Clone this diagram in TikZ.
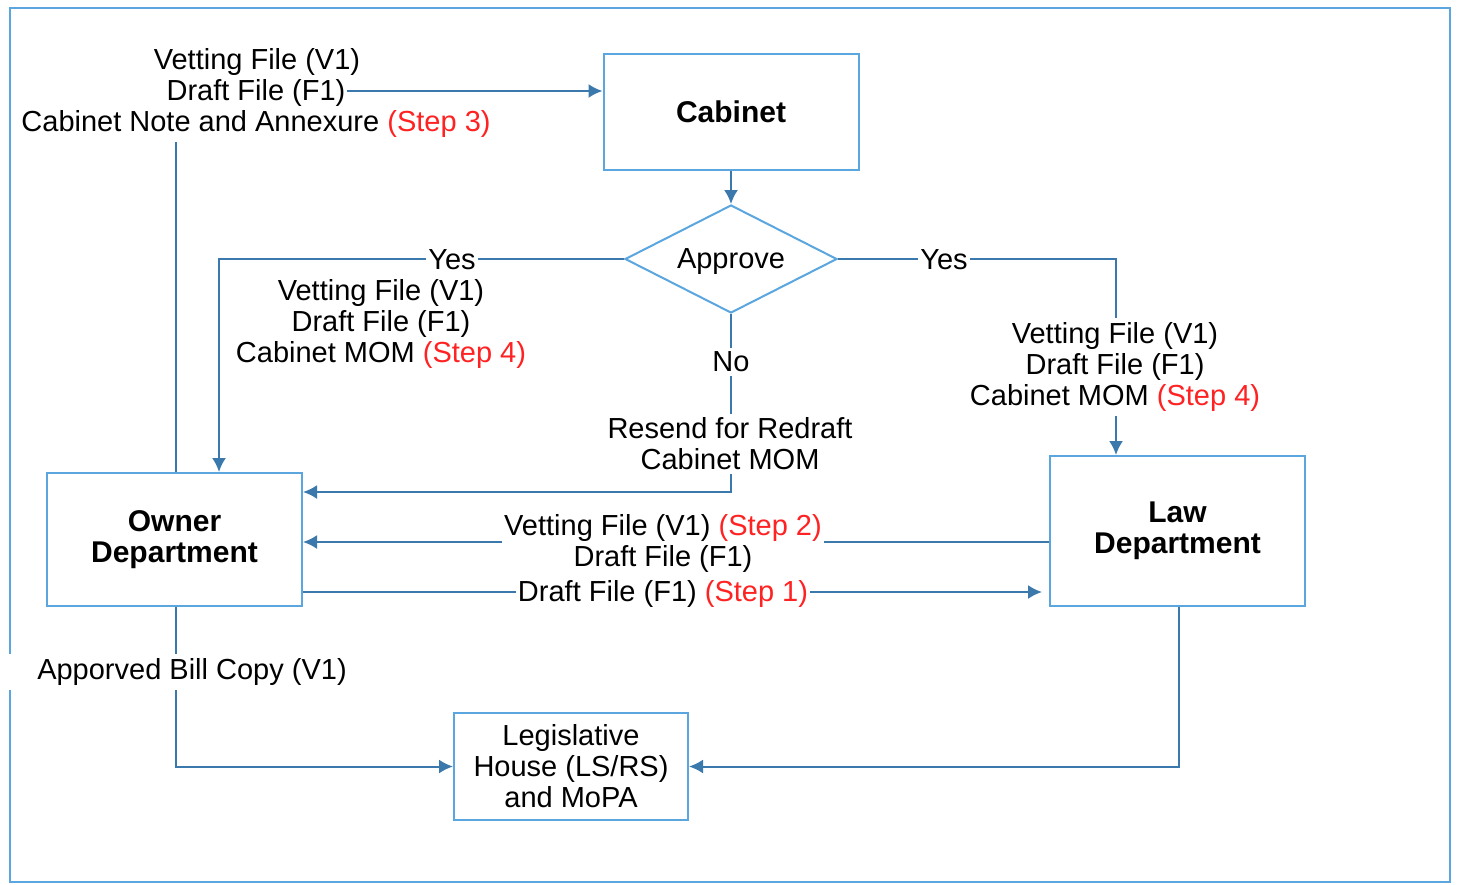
\documentclass[tikz,border=0pt]{standalone}
\usepackage{fontspec}
\setmainfont{Liberation Sans}
\usepackage{xcolor}
\usetikzlibrary{arrows.meta, positioning, shapes.geometric, calc}
\definecolor{boxblue}{HTML}{5BA6DE}
\definecolor{linkblue}{HTML}{3B79AD}
\definecolor{stepred}{HTML}{FF2222}
\newcommand{\stepref}[1]{\textcolor{stepred}{(Step #1)}}

\begin{document}
\begin{tikzpicture}[x=0.5pt, y=-0.5pt,
  every node/.style={font=\fontsize{14.5}{15.5}\selectfont},
  box/.style={draw=boxblue, line width=1pt, minimum width=127.5pt, align=center,
              font=\fontsize{15}{15.5}\selectfont\bfseries},
  decision/.style={diamond, draw=boxblue, line width=1pt, aspect=2, inner sep=0pt,
                   minimum width=106pt, minimum height=54pt, text depth=0pt},
  lbl/.style={align=center, inner xsep=1pt, inner ysep=2pt},
  link/.style={-{Latex[length=7pt, width=7pt]}, draw=linkblue, line width=1pt}]

  \useasboundingbox (0,0) rectangle (1459,884);
  \draw[boxblue, line width=1pt] (10,8) rectangle (1450,882);

  \node[box, minimum height=58pt] (cabinet) at (731,112) {Cabinet};
  \node[decision] (approve) at (731,259) {Approve};
  \node[box, minimum height=66.5pt] (owner) at (174.5,539.5) {Owner\\Department};
  \node[box, minimum height=75pt] (law) at (1177.5,531) {Law\\Department};
  \node[box, minimum width=117pt, minimum height=53.5pt,
        font=\fontsize{14.5}{15.5}\selectfont] (house) at (571,766.5) {Legislative\\House (LS/RS)\\and MoPA};

  \draw[link] ($(owner.north)+(1.5,0)$) |- ($(cabinet.west)+(0,-21)$);
  \draw[link] (cabinet) -- (approve);
  \draw[link] (approve.west) -| ($(owner.north)+(44.5,0)$);
  \draw[link] (approve.east) -| ($(law.north)+(-61.5,0)$);
  \draw[link] (approve.south) |- ($(owner.east)+(0,-47.5)$);
  \draw[link] ($(law.west)+(0,11)$) -- ($(owner.east)+(0,2.5)$);
  \draw[link] ($(owner.east)+(0,52.5)$) -- ($(law.west)+(-7,61)$);
  \draw[link] ($(owner.south)+(1.5,0)$) |- (house.west);
  \draw[link] ($(law.south)+(1.5,0)$) |- (house.east);

  \node[lbl] (vet3) at (257,62) {Vetting File (V1)};
  \node[lbl, fill=white] (draft3) at (256,93) {Draft File (F1)};
  \node[lbl, fill=white] (note3) at (256,124) {Cabinet Note and Annexure \stepref{3}};
  \node[lbl, fill=white] (yesleft) at (452,260) {Yes};
  \node[lbl, fill=white] (yesright) at (944,260) {Yes};
  \node[lbl] (momleft) at (381,324) {Vetting File (V1)\\Draft File (F1)\\Cabinet MOM \stepref{4}};
  \node[lbl, fill=white] (momright) at (1115,367) {Vetting File (V1)\\Draft File (F1)\\Cabinet MOM \stepref{4}};
  \node[lbl, fill=white] (no) at (731,362) {No};
  \node[lbl, fill=white] (redraft) at (730,444) {Resend for Redraft\\Cabinet MOM};
  \node[lbl, fill=white] (vet2) at (663,528) {Vetting File (V1) \stepref{2}};
  \node[lbl] (draft2) at (663,559) {Draft File (F1)};
  \node[lbl, fill=white] (draft1) at (663,594) {Draft File (F1) \stepref{1}};
  \node[lbl, fill=white, inner xsep=18pt] (bill) at (192,672) {Apporved Bill Copy (V1)};
\end{tikzpicture}
\end{document}
